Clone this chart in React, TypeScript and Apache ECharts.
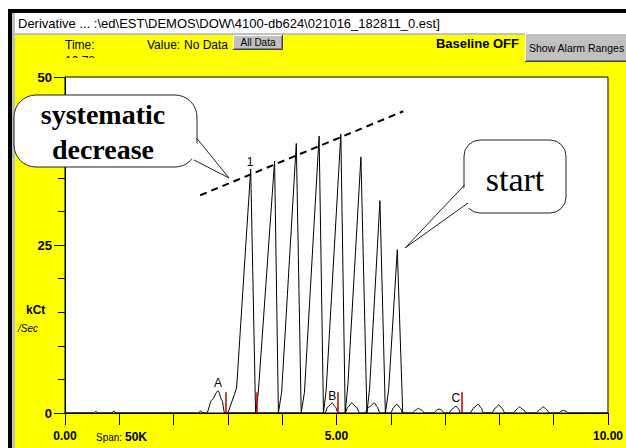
import React, { useEffect, useRef } from "react";
import * as echarts from "echarts";

// ---------- data ----------
const titleText = "Derivative ... :\\ed\\EST\\DEMOS\\DOW\\4100-db624\\021016_182811_0.est]";
const xTickLabels = ["0.00", "5.00", "10.00"];
const yTickLabels = ["0", "25", "50"];

// tall peaks (time, kCt/Sec)
const tallPeakTrace: [number, number][] = [
  [3.0, 0], [3.16, 3.7], [3.42, 36.3], [3.51, 0],
  [3.56, 3.1], [3.86, 37.5], [3.93, 0],
  [3.99, 3.1], [4.26, 40.1], [4.35, 0],
  [4.41, 3.1], [4.68, 41.2], [4.76, 0],
  [4.81, 3.4], [5.08, 41.5], [5.16, 0],
  [5.21, 4.2], [5.45, 38.1], [5.56, 0],
  [5.61, 3.7], [5.8, 31.6], [5.9, 0],
  [5.96, 3.4], [6.12, 24.3], [6.22, 0],
];

// small peaks along the baseline
const baselineTrace: [number, number][] = [
  [0, 0], [0.53, 0], [0.57, 0.25], [0.61, 0], [0.86, 0], [0.9, 0.3], [0.94, 0],
  [2.45, 0], [2.5, 0.3], [2.55, 0],
  [2.61, 0], [2.7, 1.9], [2.82, 3.3], [2.89, 1.9], [2.94, 0],
  [4.79, 0], [4.84, 0.9], [4.92, 1.5], [4.98, 0.9], [5.03, 0],
  [5.16, 0], [5.21, 0.9], [5.28, 1.5], [5.36, 0.9], [5.43, 0],
  [5.52, 0], [5.6, 0.9], [5.7, 1.5], [5.75, 0.9], [5.8, 0],
  [6.0, 0], [6.05, 0.8], [6.11, 1.3], [6.17, 0.8], [6.22, 0],
  [6.4, 0], [6.45, 0.4], [6.51, 0.7], [6.57, 0.4], [6.62, 0],
  [6.8, 0], [6.84, 0.4], [6.89, 0.6], [6.94, 0.4], [6.98, 0],
  [7.07, 0], [7.13, 0.6], [7.2, 1.0], [7.25, 0.6], [7.28, 0],
  [7.46, 0], [7.53, 0.8], [7.61, 1.3], [7.66, 0.8], [7.71, 0],
  [7.86, 0], [7.92, 0.7], [7.99, 1.2], [8.05, 0.7], [8.1, 0],
  [8.26, 0], [8.31, 0.5], [8.37, 0.9], [8.44, 0.5], [8.5, 0],
  [8.68, 0], [8.74, 0.5], [8.81, 0.9], [8.87, 0.5], [8.92, 0],
  [9.09, 0], [9.13, 0.25], [9.18, 0.4], [9.23, 0.25], [9.27, 0],
  [10, 0],
];

const markerTimes = [2.96, 3.53, 5.03, 7.31];
const markerHeight = 3.1;

const peakLabels = [
  { name: "A", value: [2.82, 4.4] },
  { name: "1", value: [3.41, 37.3] },
  { name: "B", value: [4.92, 2.5] },
  { name: "C", value: [7.2, 2.2] },
];

// systematic-decrease trend line (start, end)
const trendLine: [number, number][] = [
  [2.49, 32.4],
  [6.23, 44.9],
];

const SANS = "'Liberation Sans', Arial, sans-serif";
const SERIF = "'Liberation Serif', 'Times New Roman', serif";

function txt(text: string, x: number, y: number, opts: any = {}) {
  const align = opts.align || "left";
  const va = opts.va || "middle";
  return {
    type: "text",
    z: opts.z ?? 10,
    style: {
      text,
      x,
      y,
      fill: opts.color || "#000",
      fontSize: opts.size || 12,
      fontFamily: opts.family || SANS,
      fontWeight: opts.weight || "normal",
      fontStyle: opts.style || "normal",
      align,
      textAlign: align,
      verticalAlign: va,
      textVerticalAlign: va,
    },
  };
}

function rect(x: number, y: number, w: number, h: number, fill: string, extra: any = {}) {
  return {
    type: "rect",
    z: extra.z ?? 1,
    shape: { x, y, width: w, height: h, r: extra.r || 0 },
    style: { fill, stroke: extra.stroke || null, lineWidth: extra.lineWidth || 0 },
  };
}

function pline(points: number[][], color: string, width = 1, z = 10) {
  return {
    type: "polyline",
    z,
    shape: { points },
    style: { stroke: color, lineWidth: width, fill: null },
  };
}

function button(x: number, y: number, w: number, h: number) {
  return [
    rect(x, y, w, h, "#c0c0c0", { z: 5 }),
    pline([[x + 0.5, y + h - 1], [x + 0.5, y + 0.5], [x + w - 1, y + 0.5]], "#ffffff", 1, 6),
    pline([[x, y + h - 0.5], [x + w - 0.5, y + h - 0.5], [x + w - 0.5, y]], "#404040", 1, 6),
    pline([[x + 1, y + h - 1.5], [x + w - 1.5, y + h - 1.5], [x + w - 1.5, y + 1]], "#808080", 1, 6),
  ];
}

export default function App() {
  const ref = useRef<HTMLDivElement>(null);

  useEffect(() => {
    if (!ref.current) return;
    const chart = echarts.init(ref.current, null, { renderer: "svg" });

    const graphics: any[] = [
      // frame
      rect(0, 0, 626, 9, "#ffffff"),
      rect(0, 0, 8, 448, "#ffffff"),
      rect(8, 9, 618, 4, "#000000", { z: 2 }),
      rect(8, 9, 4, 439, "#000000", { z: 2 }),
      rect(12, 13, 614, 20, "#ffffff"),
      rect(12, 33, 614, 2, "#c0c0c0"),
      rect(12, 13, 3, 435, "#c0c0c0", { z: 2 }),
      txt(titleText, 18, 23, { size: 13 }),
      // header
      txt("Time:", 65, 45, { size: 12 }),
      txt("10.78", 65, 55, { size: 12, va: "top", z: 3 }),
      rect(60, 58, 55, 14, "#ffff00", { z: 4 }),
      txt("Value:", 147, 45, { size: 12 }),
      txt("No Data", 184, 45, { size: 12 }),
      ...button(233, 35, 50, 15),
      txt("All Data", 258, 42, { size: 10, align: "center", z: 7 }),
      txt("Baseline OFF", 519, 43, { size: 13, weight: "bold", align: "right" }),
      ...button(525, 33, 104, 29),
      txt("Show Alarm Ranges", 529, 48, { size: 10.5, z: 7 }),
      // axis names
      txt("kCt", 26, 310, { size: 12, weight: "bold" }),
      txt("/Sec", 18, 328, { size: 10, style: "italic" }),
      txt("Span:", 96, 437, { size: 10 }),
      txt("50K", 125, 437, { size: 12, weight: "bold" }),
      // callout 1
      rect(14, 95, 183, 72, "#ffffff", { r: 22, stroke: "#222", lineWidth: 1, z: 100 }),
      {
        type: "polygon",
        z: 101,
        shape: { points: [[190, 136], [229, 178], [192, 161]] },
        style: { fill: "#ffffff", stroke: null },
      },
      pline([[196.5, 138], [229, 178], [194, 160]], "#222", 1, 102),
      txt("systematic", 103, 114, { size: 28, weight: "bold", family: SERIF, align: "center", z: 103 }),
      txt("decrease", 103, 149, { size: 28, weight: "bold", family: SERIF, align: "center", z: 103 }),
      // callout 2
      rect(464, 140, 102, 73, "#ffffff", { r: 16, stroke: "#222", lineWidth: 1, z: 100 }),
      {
        type: "polygon",
        z: 101,
        shape: { points: [[470, 182], [405, 248], [472, 206]] },
        style: { fill: "#ffffff", stroke: null },
      },
      pline([[464.5, 185], [405, 248], [468, 203]], "#222", 1, 102),
      txt("start", 515, 179, { size: 34, family: SERIF, align: "center", z: 103 }),
    ];

    const option: any = {
      animation: false,
      backgroundColor: "#ffff00",
      grid: {
        left: 65,
        top: 77,
        width: 547,
        height: 336,
        show: true,
        backgroundColor: "#ffffff",
        borderColor: "#000",
        borderWidth: 1,
      },
      xAxis: {
        type: "value",
        min: 0,
        max: 10,
        interval: 1,
        axisLine: { show: true, lineStyle: { color: "#000", width: 1 } },
        axisTick: { show: true, length: 12, lineStyle: { color: "#000" } },
        splitLine: { show: false },
        axisLabel: {
          margin: 17,
          color: "#000",
          fontSize: 12,
          fontWeight: "bold",
          fontFamily: SANS,
          formatter: (v: number) => {
            const s = v.toFixed(2);
            return xTickLabels.includes(s) ? s : "";
          },
        },
      },
      yAxis: [
        {
          type: "value",
          min: 0,
          max: 50,
          interval: 5,
          position: "left",
          axisLine: { show: true, lineStyle: { color: "#000", width: 1 } },
          axisTick: { show: true, length: 7, lineStyle: { color: "#000" } },
          axisLabel: { show: false },
          splitLine: { show: false },
        },
        {
          type: "value",
          min: 0,
          max: 50,
          interval: 25,
          position: "left",
          offset: 0,
          axisLine: { show: false },
          axisTick: { show: true, length: 11, lineStyle: { color: "#000" } },
          splitLine: { show: false },
          axisLabel: {
            margin: 13,
            color: "#000",
            fontSize: 13,
            fontWeight: "bold",
            fontFamily: SANS,
            formatter: (v: number) => (yTickLabels.includes(String(v)) ? String(v) : ""),
          },
        },
      ],
      series: [
        {
          name: "baseline",
          type: "line",
          data: baselineTrace,
          showSymbol: false,
          smooth: 0.3,
          smoothMonotone: "x",
          lineStyle: { color: "#000", width: 1 },
          z: 3,
          markLine: {
            silent: true,
            symbol: ["none", "none"],
            label: { show: false },
            lineStyle: { color: "#c00000", width: 1.5, type: "solid" },
            data: markerTimes.map((t) => [{ coord: [t, 0] }, { coord: [t, markerHeight] }]),
          },
        },
        {
          name: "peaks",
          type: "line",
          data: tallPeakTrace,
          showSymbol: false,
          lineStyle: { color: "#000", width: 1 },
          z: 4,
          markLine: {
            silent: true,
            symbol: ["none", "none"],
            label: { show: false },
            lineStyle: { color: "#000", width: 2, type: [7, 5] },
            data: [[{ coord: trendLine[0] }, { coord: trendLine[1] }]],
          },
        },
        {
          name: "labels",
          type: "scatter",
          data: peakLabels,
          symbol: "circle",
          symbolSize: 0,
          itemStyle: { color: "#000", opacity: 1 },
          z: 5,
          label: {
            show: true,
            position: "inside",
            formatter: "{b}",
            color: "#000",
            opacity: 1,
            textBorderWidth: 0,
            fontSize: 12,
            fontFamily: SANS,
          },
        },
      ],
      graphic: { elements: graphics },
    };

    chart.setOption(option);
    return () => chart.dispose();
  }, []);

  return (
    <div
      ref={ref}
      style={{ position: "absolute", left: 0, top: 0, width: 626, height: 448 }}
    />
  );
}
